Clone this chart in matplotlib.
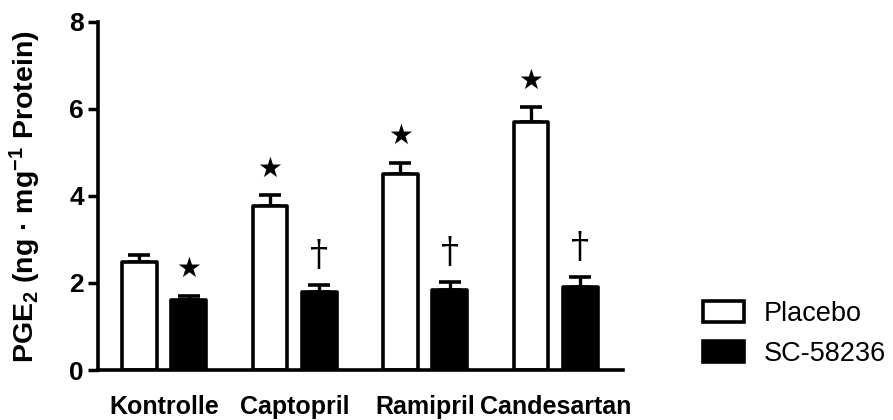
import matplotlib
matplotlib.use("Agg")
import matplotlib.pyplot as plt
import numpy as np

plt.rcParams['font.family'] = ['Liberation Sans', 'DejaVu Sans']
plt.rcParams['mathtext.fontset'] = 'custom'
plt.rcParams['mathtext.rm'] = 'Liberation Sans:bold'
plt.rcParams['mathtext.default'] = 'rm'

categories = ["Kontrolle", "Captopril", "Ramipril", "Candesartan"]
placebo = [2.49, 3.78, 4.50, 5.69]
placebo_err = [0.15, 0.24, 0.27, 0.35]
sc = [1.61, 1.80, 1.84, 1.90]
sc_err = [0.10, 0.15, 0.18, 0.23]
series_names = ["Placebo", "SC-58236"]
placebo_marks = ["", "★", "★", "★"]
sc_marks = ["★", "†", "†", "†"]
yticks = [0, 2, 4, 6, 8]

fig = plt.figure(figsize=(8.93, 4.20), dpi=100)
ax = fig.add_axes([98/893, 50/420, 525/893, 348/420])

x = np.arange(len(categories))
off = 0.188
w = 0.268
lw = 2.6

b1 = ax.bar(x - off, placebo, w, color='white', edgecolor='black', linewidth=lw,
            joinstyle='round', label=series_names[0], zorder=2)
b2 = ax.bar(x + off, sc, w, color='black', edgecolor='black', linewidth=lw,
            joinstyle='round', label=series_names[1], zorder=2)

for xs, vals, errs in [(x - off, placebo, placebo_err), (x + off, sc, sc_err)]:
    ax.errorbar(xs, vals, yerr=[np.zeros(len(vals)), errs], fmt='none',
                ecolor='black', elinewidth=2.4, capsize=8, capthick=2.6, zorder=1)

def mark(xs, vals, errs, marks):
    for xi, v, e, m in zip(xs, vals, errs, marks):
        if not m:
            continue
        if m == "★":
            ax.annotate(m, xy=(xi, v + e), xytext=(0, 19), textcoords='offset points',
                        ha='center', va='center', fontsize=20, family='DejaVu Sans')
        else:
            ax.annotate(m, xy=(xi, v + e), xytext=(0, 22), textcoords='offset points',
                        ha='center', va='center', fontsize=26, family='DejaVu Serif')

mark(x - off, placebo, placebo_err, placebo_marks)
mark(x + off, sc, sc_err, sc_marks)

ax.set_xlim(-0.506, 3.517)
ax.set_ylim(0, 8)
ax.set_yticks(yticks)
ax.set_yticklabels([str(t) for t in yticks], fontsize=19, fontweight='bold')
ax.set_xticks(x)
ax.set_xticklabels(categories, fontsize=18, fontweight='bold')
ax.tick_params(axis='x', length=0, pad=18)
ax.tick_params(axis='y', length=7, width=2.5, pad=3)

for s in ['top', 'right']:
    ax.spines[s].set_visible(False)
for s in ['left', 'bottom']:
    ax.spines[s].set_linewidth(2.6)

ax.set_ylabel(r'PGE$_2$ (ng · mg$^{-1}$ Protein)', fontsize=20.5, fontweight='bold')
ax.yaxis.set_label_coords(-0.105, 0.497)

leg = fig.legend(handles=[b1, b2], labels=series_names, loc='center left',
                 bbox_to_anchor=(703/893, 86/420), frameon=False, fontsize=19.5,
                 handlelength=1.5, handleheight=0.83, handletextpad=0.75,
                 labelspacing=0.5, borderpad=0, borderaxespad=0)

fig.savefig("out.png", dpi=100)
